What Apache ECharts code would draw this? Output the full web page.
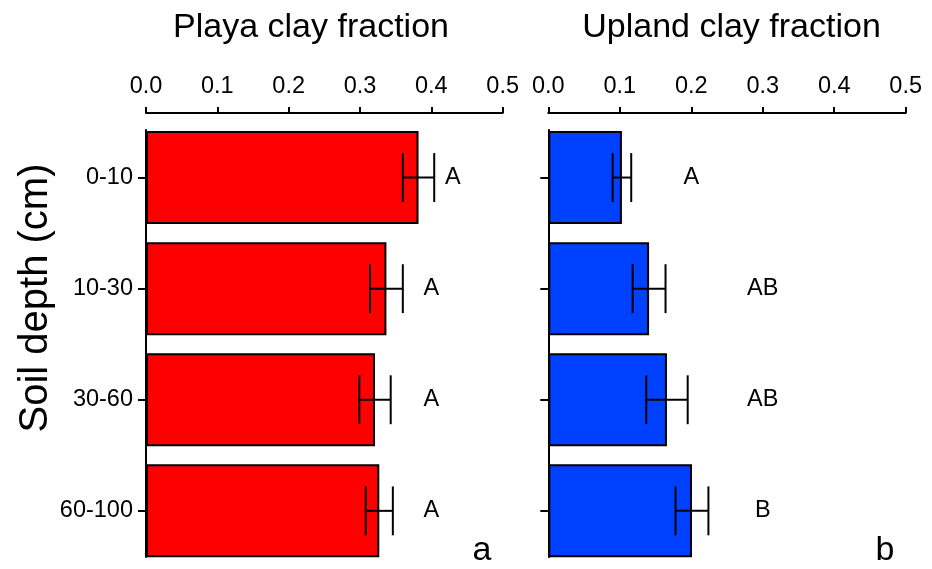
<!DOCTYPE html>
<html>
<head>
<meta charset="utf-8">
<script src="https://cdn.jsdelivr.net/npm/echarts@6/dist/echarts.min.js"></script>
<style>
  html, body { margin: 0; padding: 0; background: #fff; }
  #chart { width: 932px; height: 569px; }
</style>
</head>
<body>
<div id="chart"></div>
<script>
var depths = ['0-10', '10-30', '30-60', '60-100']

var playaMean = [0.382, 0.337, 0.321, 0.327]
var playaErr = [0.022, 0.023, 0.022, 0.019]
var playaLetters = ['A', 'A', 'A', 'A']
var playaLetterX = [0.43, 0.40, 0.40, 0.40]

var uplandMean = [0.103, 0.141, 0.166, 0.201]
var uplandErr = [0.013, 0.023, 0.029, 0.023]
var uplandLetters = ['A', 'AB', 'AB', 'B']
var uplandLetterX = [0.20, 0.30, 0.30, 0.30]

var xMin = 0
var xMax = 0.5
var xStep = 0.1

var FONT = '"Liberation Sans", Arial, Helvetica, sans-serif'
var BLACK = '#000'
var TICK_FONT = 23.5

function errData(mean, err) {
  return mean.map(function (m, i) {
    return [i, m - err[i], m + err[i]]
  })
}

function letterData(xs) {
  return xs.map(function (x, i) {
    return [x, i]
  })
}

// whiskers: horizontal line from low to high, with caps
function renderErr(params, api) {
  var cat = api.value(0)
  var lo = api.coord([api.value(1), cat])
  var hi = api.coord([api.value(2), cat])
  var half = api.size([0, 1])[1] * 0.22
  var st = { stroke: BLACK, lineWidth: 2, fill: null }
  return {
    type: 'group',
    children: [
      { type: 'line', shape: { x1: lo[0], y1: lo[1], x2: hi[0], y2: hi[1] }, style: st },
      { type: 'line', shape: { x1: lo[0], y1: lo[1] - half, x2: lo[0], y2: lo[1] + half }, style: st },
      { type: 'line', shape: { x1: hi[0], y1: hi[1] - half, x2: hi[0], y2: hi[1] + half }, style: st }
    ]
  }
}

function letterRenderer(letters) {
  return function (params, api) {
    var p = api.coord([api.value(0), api.value(1)])
    return {
      type: 'text',
      x: p[0],
      y: p[1],
      style: {
        text: letters[params.dataIndex],
        fill: BLACK,
        font: TICK_FONT + 'px ' + FONT,
        align: 'center',
        verticalAlign: 'middle'
      }
    }
  }
}

function topAxis(gridIndex) {
  return {
    type: 'value',
    gridIndex: gridIndex,
    position: 'top',
    offset: 9,
    min: xMin,
    max: xMax,
    interval: xStep,
    axisLine: { show: true, lineStyle: { color: BLACK, width: 2 } },
    axisTick: { show: true, length: 6, lineStyle: { color: BLACK, width: 2 } },
    axisLabel: {
      color: BLACK, fontSize: TICK_FONT, fontFamily: FONT, margin: 14,
      formatter: function (v) { return v.toFixed(1) }
    },
    splitLine: { show: false }
  }
}

function depthAxis(gridIndex, showLabels) {
  return {
    type: 'category',
    gridIndex: gridIndex,
    data: depths,
    inverse: true,
    axisLine: { show: false },
    axisTick: { show: true, alignWithLabel: true, length: 8, lineStyle: { color: BLACK, width: 2 } },
    axisLabel: { show: showLabels, color: BLACK, fontSize: TICK_FONT, fontFamily: FONT, margin: 13 },
    splitLine: { show: false }
  }
}

// separate axis only for the shorter vertical spine
function spineAxis(gridIndex) {
  return {
    type: 'value',
    gridIndex: gridIndex,
    min: 0,
    max: 1,
    axisLine: { show: true, onZero: false, lineStyle: { color: BLACK, width: 2 } },
    axisTick: { show: false },
    axisLabel: { show: false },
    splitLine: { show: false }
  }
}

function bars(idx, data, color) {
  return {
    type: 'bar',
    xAxisIndex: idx,
    yAxisIndex: idx,
    data: data,
    barWidth: 93,
    itemStyle: { color: color, borderColor: BLACK, borderWidth: 2 },
    z: 2
  }
}

var chart = echarts.init(document.getElementById('chart'), null, { renderer: 'canvas' })

var option = {
  animation: false,
  backgroundColor: '#fff',
  grid: [
    { left: 146, top: 122, width: 356.7, height: 444.4, outerBoundsMode: 'none', containLabel: false },
    { left: 548.3, top: 122, width: 357.4, height: 444.4, outerBoundsMode: 'none', containLabel: false },
    { left: 146, top: 130, width: 356.7, height: 427, outerBoundsMode: 'none', containLabel: false },
    { left: 548.3, top: 130, width: 357.4, height: 427, outerBoundsMode: 'none', containLabel: false }
  ],
  xAxis: [
    topAxis(0),
    topAxis(1),
    { type: 'value', gridIndex: 2, show: false },
    { type: 'value', gridIndex: 3, show: false }
  ],
  yAxis: [
    depthAxis(0, true),
    depthAxis(1, false),
    spineAxis(2),
    spineAxis(3)
  ],
  graphic: [
    { type: 'text', x: 311, y: 28, style: { text: 'Playa clay fraction', fill: BLACK, font: '34px ' + FONT, align: 'center', verticalAlign: 'middle' } },
    { type: 'text', x: 731.5, y: 28, style: { text: 'Upland clay fraction', fill: BLACK, font: '34px ' + FONT, align: 'center', verticalAlign: 'middle' } },
    { type: 'text', x: 36, y: 298, rotation: Math.PI / 2, style: { text: 'Soil depth (cm)', fill: BLACK, font: '40px ' + FONT, align: 'center', verticalAlign: 'middle' } },
    { type: 'text', x: 482, y: 551, style: { text: 'a', fill: BLACK, font: '34px ' + FONT, align: 'center', verticalAlign: 'middle' } },
    { type: 'text', x: 885, y: 551, style: { text: 'b', fill: BLACK, font: '34px ' + FONT, align: 'center', verticalAlign: 'middle' } }
  ],
  series: [
    bars(0, playaMean, '#ff0000'),
    {
      type: 'custom', xAxisIndex: 0, yAxisIndex: 0, z: 3,
      data: errData(playaMean, playaErr),
      encode: { x: [1, 2], y: 0 },
      renderItem: renderErr
    },
    {
      type: 'custom', xAxisIndex: 0, yAxisIndex: 0, z: 3,
      data: letterData(playaLetterX),
      encode: { x: 0, y: 1 },
      renderItem: letterRenderer(playaLetters)
    },
    bars(1, uplandMean, '#0040ff'),
    {
      type: 'custom', xAxisIndex: 1, yAxisIndex: 1, z: 3,
      data: errData(uplandMean, uplandErr),
      encode: { x: [1, 2], y: 0 },
      renderItem: renderErr
    },
    {
      type: 'custom', xAxisIndex: 1, yAxisIndex: 1, z: 3,
      data: letterData(uplandLetterX),
      encode: { x: 0, y: 1 },
      renderItem: letterRenderer(uplandLetters)
    }
  ]
}

chart.setOption(option)
</script>
</body>
</html>
